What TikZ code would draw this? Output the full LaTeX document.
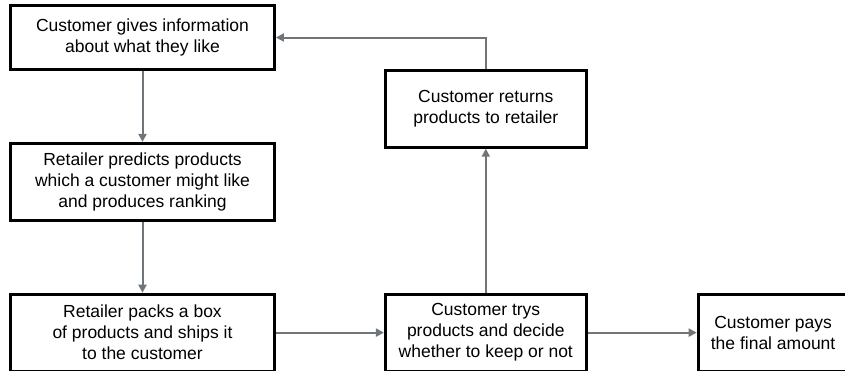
\documentclass[tikz,border=0pt]{standalone}
\usepackage{fontspec}
\setmainfont{Liberation Sans}
\usetikzlibrary{positioning,arrows.meta}
\definecolor{flowgray}{RGB}{112,117,122}

\begin{document}
\begin{tikzpicture}[x=1pt,y=1pt,
  stepbox/.style={draw, line width=2.8pt, align=center, inner sep=2pt,
    font=\fontsize{17.5}{21}\selectfont, minimum height=77pt},
  flow/.style={draw=flowgray, line width=2pt, -{Triangle[length=8pt,width=8pt]}}]
\useasboundingbox (0,0) rectangle (845,-370);
\node (info) [stepbox, minimum width=264pt, minimum height=64pt] at (142.5,-37.5) {Customer gives information\\about what they like};
\node (predict) [stepbox, minimum width=264pt, below=71pt of info] {Retailer predicts products\\which a customer might like\\and produces ranking};
\node (pack) [stepbox, minimum width=264pt, below=71pt of predict] {Retailer packs a box\\of products and ships it\\to the customer};
\node (try) [stepbox, minimum width=201pt, right=108pt of pack] {Customer trys\\products and decide\\whether to keep or not};
\node (pay) [stepbox, minimum width=150pt, right=109pt of try] {Customer pays\\the final amount};
\node (return) [stepbox, minimum width=201pt, above=144pt of try] {Customer returns\\products to retailer};

\draw[flow] (info) -- (predict);
\draw[flow] (predict) -- (pack);
\draw[flow] (pack) -- (try);
\draw[flow] (try) -- (pay);
\draw[flow] (try) -- (return);
\draw[flow] (return.north) |- (info.east);
\end{tikzpicture}
\end{document}
